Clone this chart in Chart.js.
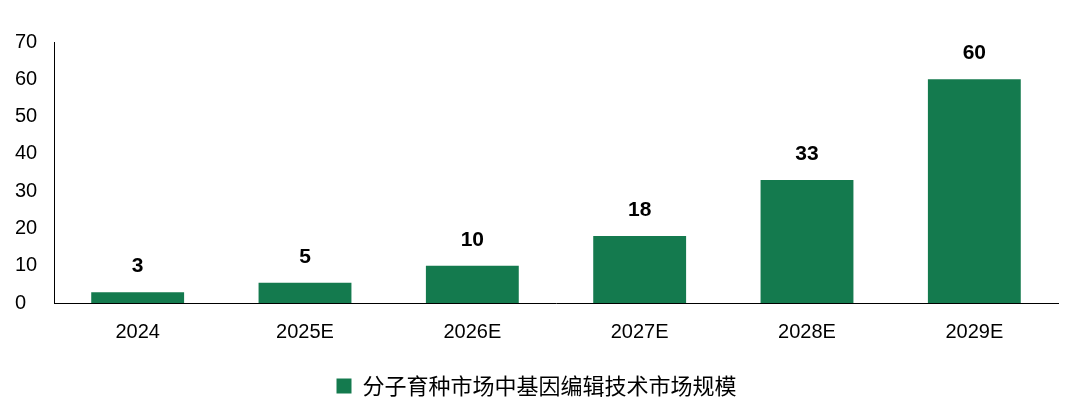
<!DOCTYPE html>
<html>
<head>
<meta charset="utf-8">
<script src="https://cdn.jsdelivr.net/npm/chart.js@4"></script>
<style>
    html, body { margin: 0; padding: 0; background: #fff; }
    #wrap { width: 1080px; height: 408px; }
</style>
</head>
<body>
<div id="wrap"><canvas id="barChart"></canvas></div>
<script>
const categories = ["2024", "2025E", "2026E", "2027E", "2028E", "2029E"];
const marketSize = [2.9, 5.4, 10, 18, 33, 60];
const seriesName = "分子育种市场中基因编辑技术市场规模";
const yTicks = [0, 10, 20, 30, 40, 50, 60, 70];

const barColor = "#147a4e";

// value labels above each bar
const valueLabels = {
    id: "valueLabels",
    afterDatasetsDraw(chart) {
        const ctx = chart.ctx;
        const meta = chart.getDatasetMeta(0);
        ctx.save();
        ctx.font = "bold 21px 'Liberation Sans', Arial, sans-serif";
        ctx.fillStyle = "#000";
        ctx.textAlign = "center";
        ctx.textBaseline = "middle";
        meta.data.forEach((bar, i) => {
            ctx.fillText(Math.round(marketSize[i]), bar.x, bar.y - 26);
        });
        ctx.restore();
    }
};

new Chart(document.getElementById("barChart"), {
    type: "bar",
    data: {
        labels: categories,
        datasets: [{
            label: seriesName,
            data: marketSize,
            backgroundColor: barColor,
            categoryPercentage: 1,
            barPercentage: 0.555
        }]
    },
    options: {
        responsive: true,
        maintainAspectRatio: false,
        animation: false,
        layout: { padding: { left: 15, right: 22, top: 42, bottom: 1 } },
        plugins: {
            tooltip: { enabled: false },
            legend: {
                position: "bottom",
                labels: {
                    boxWidth: 15,
                    boxHeight: 15,
                    padding: 10,
                    color: "#000",
                    font: { size: 22, family: "'Noto Sans CJK SC', sans-serif" }
                }
            }
        },
        scales: {
            x: {
                grid: { display: false },
                border: { display: true, color: "#000", width: 1 },
                ticks: {
                    color: "#000",
                    padding: 9,
                    font: { size: 20, family: "'Liberation Sans', Arial, sans-serif" }
                },
                afterFit(scale) { scale.height = 62; }
            },
            y: {
                min: 0,
                max: 70,
                afterBuildTicks(scale) { scale.ticks = yTicks.map(v => ({ value: v })); },
                grid: { display: false },
                border: { display: true, color: "#000", width: 1 },
                ticks: {
                    color: "#000",
                    crossAlign: "far",
                    font: { size: 20, family: "'Liberation Sans', Arial, sans-serif" }
                },
                afterFit(scale) { scale.width = 39; }
            }
        }
    },
    plugins: [valueLabels]
});
</script>
</body>
</html>
